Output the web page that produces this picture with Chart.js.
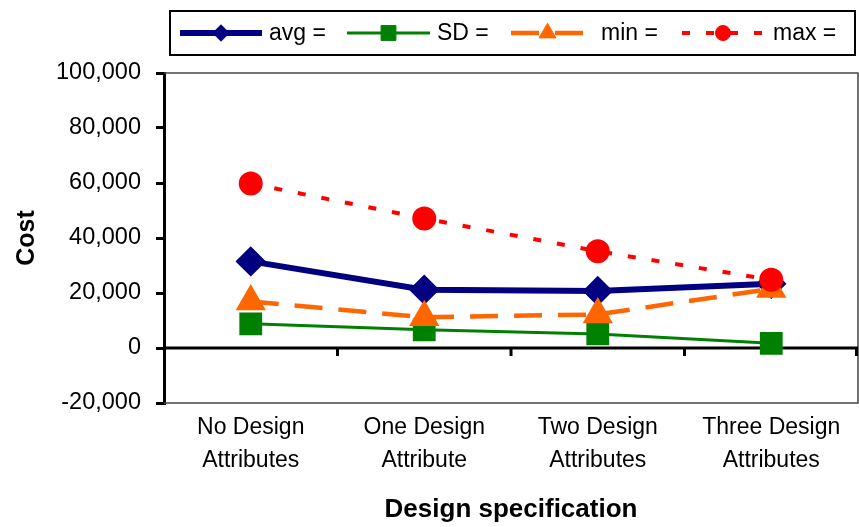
<!DOCTYPE html>
<html>
<head>
<meta charset="utf-8">
<script src="https://cdn.jsdelivr.net/npm/chart.js@4/dist/chart.umd.min.js"></script>
<style>
  html, body { margin: 0; padding: 0; background: #fff; }
  #wrap { width: 859px; height: 527px; }
</style>
</head>
<body>
<div id="wrap"><canvas id="grafico"></canvas></div>
<script>
// dados
const categorias = [
  ['No Design', 'Attributes'],
  ['One Design', 'Attribute'],
  ['Two Design', 'Attributes'],
  ['Three Design', 'Attributes']
];
const avgValores = [31500, 21200, 20700, 23400];
const sdValores  = [8800, 6600, 5100, 1700];
const minValores = [16900, 11200, 12200, 21500];
const maxValores = [59800, 47100, 35200, 24800];
const yMin = -20000, yMax = 100000, yPasso = 20000;

const fonte = "'Liberation Sans', Arial, sans-serif";

// posições da legenda (x da linha, x do texto)
const legendaItens = [
  { ds: 0, texto: 'avg =', x0: 180, x1: 262, tx: 269 },
  { ds: 1, texto: 'SD =',  x0: 347, x1: 430, tx: 437 },
  { ds: 2, texto: 'min =', x0: 511, x1: 584, tx: 601 },
  { ds: 3, texto: 'max =', x0: 682, x1: 764, tx: 773 }
];

const molduraPlugin = {
  id: 'moldura',
  beforeDatasetsDraw(chart) {
    const { ctx, chartArea: a, scales: { x, y } } = chart;
    ctx.save();
    // contorno da área do gráfico
    ctx.strokeStyle = '#444';
    ctx.lineWidth = 1.5;
    ctx.beginPath();
    ctx.moveTo(a.left, a.top); ctx.lineTo(a.right, a.top);
    ctx.lineTo(a.right, a.bottom); ctx.lineTo(a.left, a.bottom);
    ctx.stroke();
    // eixo das categorias no zero
    const y0 = y.getPixelForValue(0);
    ctx.strokeStyle = '#000';
    ctx.lineWidth = 3;
    ctx.beginPath();
    ctx.moveTo(a.left, y0); ctx.lineTo(a.right, y0);
    ctx.stroke();
    ctx.beginPath();
    for (let i = 0; i < categorias.length; i++) {
      const px = i < categorias.length - 1
        ? (x.getPixelForTick(i) + x.getPixelForTick(i + 1)) / 2
        : a.right - 1.5;
      ctx.moveTo(px, y0); ctx.lineTo(px, y0 + 8);
    }
    ctx.stroke();
    ctx.restore();
  },
  afterDraw(chart) {
    const ctx = chart.ctx;
    ctx.save();
    ctx.strokeStyle = '#000';
    ctx.lineWidth = 2;
    ctx.strokeRect(170, 11, 685, 44);
    const ly = 33;
    legendaItens.forEach(it => {
      const ds = chart.data.datasets[it.ds];
      ctx.save();
      ctx.strokeStyle = ds.borderColor;
      ctx.lineWidth = ds.borderWidth;
      ctx.setLineDash(ds.borderDash || []);
      ctx.beginPath();
      ctx.moveTo(it.x0, ly); ctx.lineTo(it.x1, ly);
      ctx.stroke();
      ctx.restore();
      ctx.save();
      ctx.fillStyle = ds.pointBackgroundColor;
      ctx.strokeStyle = ds.pointBorderColor;
      ctx.lineWidth = 1;
      Chart.helpers.drawPoint(ctx, {
        pointStyle: ds.pointStyle,
        radius: ds.pointRadius * 0.75,
        rotation: 0,
        borderWidth: 1
      }, (it.x0 + it.x1) / 2, ly);
      ctx.restore();
      ctx.fillStyle = '#000';
      ctx.font = '23px ' + fonte;
      ctx.textBaseline = 'middle';
      ctx.fillText(it.texto, it.tx, ly + 1);
    });
    ctx.restore();
  }
};

new Chart(document.getElementById('grafico'), {
  type: 'line',
  data: {
    labels: categorias,
    datasets: [
      {
        label: 'avg', data: avgValores, order: 4,
        borderColor: '#000080', borderWidth: 6,
        pointStyle: 'rectRot', pointRadius: 11,
        pointBackgroundColor: '#000080', pointBorderColor: '#000080'
      },
      {
        label: 'SD', data: sdValores, order: 3,
        borderColor: '#008000', borderWidth: 3,
        pointStyle: 'rect', pointRadius: 14,
        pointBackgroundColor: '#008000', pointBorderColor: '#008000'
      },
      {
        label: 'min', data: minValores, order: 2,
        borderColor: '#FF6600', borderWidth: 4.5, borderDash: [28, 16],
        pointStyle: 'triangle', pointRadius: 13,
        pointBackgroundColor: '#FF6600', pointBorderColor: '#FF6600'
      },
      {
        label: 'max', data: maxValores, order: 1,
        borderColor: '#FF0000', borderWidth: 4, borderDash: [8, 16],
        pointStyle: 'circle', pointRadius: 10,
        pointBackgroundColor: '#FF0000', pointBorderColor: '#FF0000'
      }
    ]
  },
  options: {
    responsive: true,
    maintainAspectRatio: false,
    animation: false,
    layout: { autoPadding: false, padding: { top: 73, right: 1, left: 0, bottom: 0 } },
    plugins: { legend: { display: false }, tooltip: { enabled: false } },
    elements: { line: { tension: 0 }, point: { borderWidth: 1 } },
    scales: {
      x: {
        offset: true,
        grid: { display: false, drawTicks: false },
        border: { display: false },
        ticks: {
          color: '#000', padding: 9, maxRotation: 0, autoSkip: false,
          font: { family: fonte, size: 23, lineHeight: 1.4 }
        },
        title: {
          display: true, text: 'Design specification', color: '#000',
          font: { family: fonte, size: 26, weight: 'bold', lineHeight: 1.2 },
          padding: { top: 0, bottom: 2 }
        },
        afterFit(s) {
          s.height = 124;
          s.paddingLeft = 0;
          s.paddingRight = 0;
        }
      },
      y: {
        min: yMin, max: yMax,
        grid: {
          drawOnChartArea: false, drawTicks: true, tickLength: 8,
          color: '#000', lineWidth: 3
        },
        border: { display: true, color: '#000', width: 3 },
        ticks: {
          stepSize: yPasso, color: '#000', padding: 15,
          font: { family: fonte, size: 23.5 },
          callback: v => v.toLocaleString('en-US')
        },
        title: {
          display: true, text: 'Cost', color: '#000',
          font: { family: fonte, size: 25, weight: 'bold', lineHeight: 1.2 },
          padding: { top: 12, bottom: 0 }
        },
        afterFit(s) { s.width = 164; }
      }
    }
  },
  plugins: [molduraPlugin]
});
</script>
</body>
</html>
